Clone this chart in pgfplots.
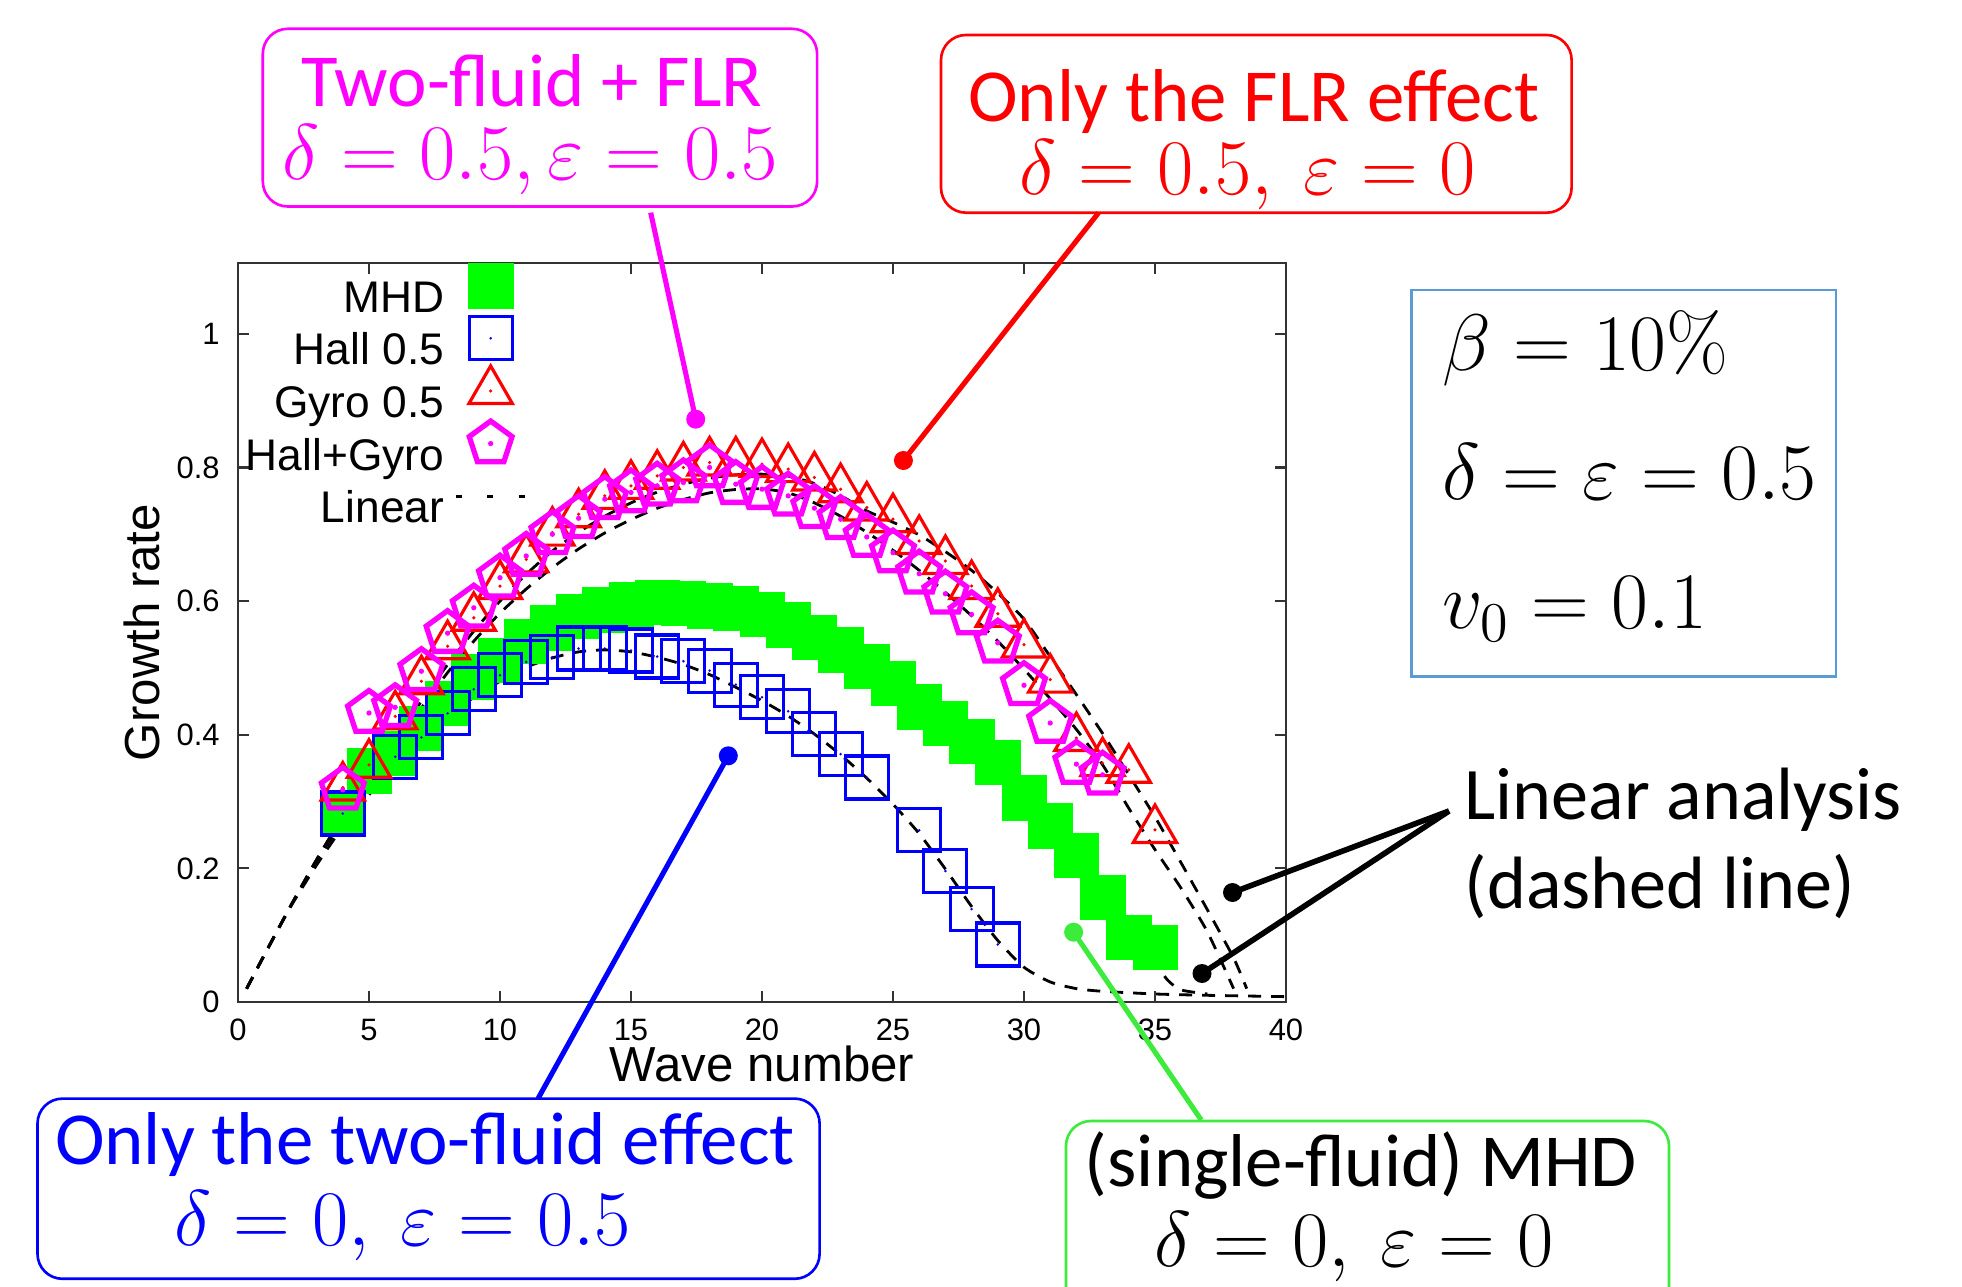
\RequirePackage{fix-cm}
\documentclass[border=0pt]{standalone}
\usepackage{fontspec}
\setmainfont{Carlito}
\newfontfamily\helv{Liberation Sans}
\usepackage{pgfplots}
\pgfplotsset{compat=1.18}
\definecolor{mhdgreen}{RGB}{0,255,0}
\definecolor{pblue}{RGB}{0,0,255}
\definecolor{pred}{RGB}{255,0,0}
\definecolor{pmag}{RGB}{255,0,255}
\definecolor{ptrgreen}{RGB}{60,235,60}
\definecolor{boxblue}{RGB}{91,155,213}

\pgfdeclareplotmark{sqdot}{%
  \pgfpathrectangle{\pgfqpoint{-\pgfplotmarksize}{-\pgfplotmarksize}}{\pgfqpoint{2\pgfplotmarksize}{2\pgfplotmarksize}}%
  \pgfusepathqstroke
  \pgfpathcircle{\pgfpointorigin}{0.4pt}\pgfusepathqfill}
\pgfdeclareplotmark{tridot}{%
  \pgfpathmoveto{\pgfpointpolar{90}{\pgfplotmarksize}}%
  \pgfpathlineto{\pgfpointpolar{210}{\pgfplotmarksize}}%
  \pgfpathlineto{\pgfpointpolar{330}{\pgfplotmarksize}}%
  \pgfpathclose\pgfusepathqstroke
  \pgfpathcircle{\pgfpointorigin}{0.5pt}\pgfusepathqfill}
\pgfdeclareplotmark{pentdot}{%
  \pgfpathmoveto{\pgfpointpolar{90}{\pgfplotmarksize}}%
  \pgfpathlineto{\pgfpointpolar{162}{\pgfplotmarksize}}%
  \pgfpathlineto{\pgfpointpolar{234}{\pgfplotmarksize}}%
  \pgfpathlineto{\pgfpointpolar{306}{\pgfplotmarksize}}%
  \pgfpathlineto{\pgfpointpolar{18}{\pgfplotmarksize}}%
  \pgfpathclose\pgfusepathqstroke
  \pgfpathcircle{\pgfpointorigin}{0.75pt}\pgfusepathqfill}

\pgfplotsset{
  marklegend/.style={legend image code/.code={\path[draw=none,fill=none] (0cm,-0.3mm) rectangle (0.7cm,3.4mm);
    \draw[##1,overlay] plot coordinates {(0.35cm,1.6mm)};}},
  linelegend/.style={legend image code/.code={\path[draw=none,fill=none] (0cm,-0.3mm) rectangle (0.7cm,3.4mm);
    \draw[##1, line width=0.9pt, dash pattern=on 0.6mm off 2.55mm] (0cm,1.6mm) -- (0.7cm,1.6mm);}},
  lin/.style={black, line width=0.8pt, dash pattern=on 1.3mm off 1mm, smooth, tension=0.4},
}

\begin{document}
\begin{tikzpicture}
\path[use as bounding box] (0,0) rectangle (196.2mm,128.7mm);
\begin{axis}[
  at={(23.8mm,28.5mm)}, anchor=south west,
  scale only axis, width=104.8mm, height=73.9mm,
  xmin=0, xmax=40, ymin=0, ymax=1.106,
  xtick={0,5,...,40}, ytick={0,0.2,0.4,0.6,0.8,1},
  tick align=inside, major tick length=1.07mm,
  axis line style={line width=0.6pt, black!80},
  every tick/.append style={line width=0.6pt, black!80},
  /pgf/number format/assume math mode=true,
  tick label style={font=\helv\fontsize{8.8}{10}\selectfont, black},
  xticklabel style={yshift=-0.45mm},
  yticklabel style={xshift=-0.6mm},
  xlabel={Wave number}, ylabel={Growth rate},
  label style={font=\helv\fontsize{14}{16}\selectfont},
  xlabel style={at={(axis description cs:0.5,-0.084)}, anchor=center},
  ylabel style={at={(axis description cs:-0.092,0.5)}, anchor=center},
  legend plot pos=right,
  legend cell align=right,
  legend style={draw=none, fill=none, at={(axis cs:11.04,1.099)}, anchor=north east,
    inner sep=0pt, outer sep=0pt, font=\helv\fontsize{12.6}{15}\selectfont,
    /tikz/column sep=1.0mm, /tikz/row sep=-2.3pt,
    nodes={inner sep=0pt, text height=10.6pt, text depth=4.6pt}},
  marklegend,
]
% MHD
\addplot[only marks, mark=square*, color=mhdgreen, mark size=2.22mm, line width=0.1pt]
coordinates {(4,0.283) (5,0.346) (6,0.372) (7,0.41) (8,0.447) (9,0.487) (10,0.512)
(11,0.54) (12,0.56) (13,0.577) (14,0.587) (15,0.595) (16,0.598) (17,0.597) (18,0.593)
(19,0.589) (20,0.580) (21,0.565) (22,0.546) (23,0.527) (24,0.503) (25,0.477) (26,0.442)
(27,0.417) (28,0.39) (29,0.359) (30,0.306) (31,0.264) (32,0.22) (33,0.157) (34,0.097) (35,0.082)};
% Hall 0.5
\addplot[only marks, mark=sqdot, color=pblue, mark size=2.15mm, line width=0.9pt, line join=miter]
coordinates {(4,0.282) (6,0.367) (7,0.396) (8,0.432) (9,0.468) (10,0.489) (11,0.509)
(12,0.516) (13,0.529) (14,0.529) (15,0.526) (16,0.517) (17,0.510) (18,0.496) (19,0.475)
(20,0.456) (21,0.435) (22,0.401) (23,0.371) (24,0.336) (26,0.257) (27,0.196) (28,0.139) (29,0.086)};
% Gyro 0.5
\addplot[only marks, mark=tridot, color=pred, mark size=2.5mm, line width=0.9pt, line join=miter]
coordinates {(4,0.321) (5,0.355) (6,0.4275) (7,0.48) (8,0.5325) (9,0.575) (10,0.6225)
(11,0.6625) (12,0.7025) (13,0.73) (14,0.7575) (15,0.7725) (16,0.7875) (17,0.80) (18,0.8075)
(19,0.8075) (20,0.805) (21,0.7975) (22,0.785) (23,0.7675) (24,0.74) (25,0.7225) (26,0.69)
(27,0.66) (28,0.6225) (29,0.581) (30,0.535) (31,0.4825) (32,0.395) (33,0.3575) (34,0.3475) (35,0.2575)};
% Hall+Gyro
\addplot[only marks, mark=pentdot, color=pmag, mark size=2.25mm, line width=1.5pt, line join=miter]
coordinates {(4,0.3175) (5,0.4325) (6,0.441) (7,0.495) (8,0.552) (9,0.59) (10,0.635)
(11,0.6675) (12,0.70) (13,0.724) (14,0.7525) (15,0.7625) (16,0.7725) (17,0.7775) (18,0.80)
(19,0.775) (20,0.7675) (21,0.7575) (22,0.739) (23,0.7225) (24,0.696) (25,0.6725) (26,0.641)
(27,0.611) (28,0.58) (29,0.5375) (30,0.474) (31,0.4175) (32,0.356) (33,0.340)};
% Linear: MHD
\addplot[lin, linelegend]
coordinates {(0.33,0.02) (1,0.07) (2,0.143) (3,0.212) (4,0.268) (5,0.318) (6,0.362) (7,0.402)
(8,0.437) (9,0.471) (10,0.501) (11,0.526) (12,0.548) (13,0.566) (14,0.58) (15,0.59) (16,0.597)
(17,0.6) (18,0.597) (19,0.59) (20,0.578) (21,0.562) (22,0.543) (23,0.524) (24,0.503) (25,0.477)
(26,0.447) (27,0.42) (28,0.39) (29,0.358) (30,0.31) (31,0.258) (32,0.208) (33,0.157) (34,0.106)
(35,0.058) (35.5,0.032) (36,0.018) (37,0.012)};
% Linear: Hall
\addplot[lin, forget plot]
coordinates {(0.33,0.02) (1,0.07) (2,0.142) (3,0.205) (4,0.262) (5,0.31) (6,0.355) (7,0.392)
(8,0.426) (9,0.456) (10,0.48) (11,0.501) (12,0.515) (13,0.524) (14,0.527) (15,0.524) (16,0.516)
(17,0.505) (18,0.49) (19,0.471) (20,0.451) (21,0.428) (22,0.401) (23,0.37) (24,0.335) (25,0.296)
(26,0.252) (27,0.199) (28,0.143) (29,0.092) (30,0.052) (31,0.03) (32,0.02) (33,0.016) (35,0.012)
(37,0.01) (40,0.008)};
% Linear: Gyro
\addplot[lin, forget plot]
coordinates {(0.33,0.02) (1,0.07) (2,0.143) (3,0.213) (4,0.278) (5,0.338) (6,0.393) (7,0.45)
(8,0.505) (9,0.555) (10,0.6) (11,0.64) (12,0.675) (13,0.703) (14,0.727) (15,0.747) (16,0.763)
(17,0.775) (18,0.784) (19,0.789) (20,0.79) (21,0.787) (22,0.776) (23,0.758) (24,0.735) (25,0.718)
(26,0.699) (27,0.674) (28,0.646) (29,0.612) (30,0.573) (31,0.517) (32,0.46) (33,0.402) (34,0.34)
(35,0.277) (36,0.208) (37,0.138) (38,0.066) (38.5,0.02)};
% Linear: Hall+Gyro
\addplot[lin, forget plot]
coordinates {(0.33,0.02) (1,0.07) (2,0.143) (3,0.213) (4,0.277) (5,0.335) (6,0.388) (7,0.44)
(8,0.493) (9,0.54) (10,0.582) (11,0.618) (12,0.65) (13,0.678) (14,0.702) (15,0.722) (16,0.739)
(17,0.752) (18,0.762) (19,0.767) (20,0.768) (21,0.762) (22,0.747) (23,0.727) (24,0.703) (25,0.676)
(26,0.646) (27,0.613) (28,0.578) (29,0.54) (30,0.498) (31,0.454) (32,0.408) (33,0.355) (34,0.29)
(35,0.228) (36,0.17) (37,0.105) (38,0.02)};
\legend{MHD, Hall 0.5, Gyro 0.5, Hall+Gyro, Linear}
\end{axis}

\begin{scope}[x=0.1mm, y=-0.1mm, shift={(0mm,128.7mm)}]
\tikzset{bt/.style={font=\fontsize{21.3}{25}\selectfont, inner sep=0pt, anchor=base},
         bm/.style={font=\fontsize{22.4}{27}\selectfont, inner sep=0pt, anchor=base},
         pm/.style={font=\fontsize{22.8}{28}\selectfont, inner sep=0pt, anchor=base west}}
% magenta box
\draw[pmag, line width=0.75pt, rounded corners=2.5mm] (262.8,28.8) rectangle (817.1,206.5);
\node[bt, text=pmag] at (532,107) {Two-fluid + FLR};
\node[bm, text=pmag] at (530,180) {$\delta=0.5,\varepsilon=0.5$};
% red box
\draw[pred, line width=0.75pt, rounded corners=2.5mm] (941,35) rectangle (1571.6,212.7);
\node[bt, text=pred] at (1254,122) {Only the FLR effect};
\node[bm, text=pred] at (1248,195) {$\delta=0.5,\ \varepsilon=0$};
% blue box
\draw[pblue, line width=0.75pt, rounded corners=2.5mm] (37.5,1098.6) rectangle (819.6,1278.8);
\node[bt, text=pblue] at (425,1164) {Only the two-fluid effect};
\node[bm, text=pblue] at (403,1245) {$\delta=0,\ \varepsilon=0.5$};
% green box
\draw[ptrgreen, line width=0.75pt, rounded corners=2.5mm] (1066,1121) rectangle (1669,1320);
\node[bt] at (1361,1186) {(single-fluid) MHD};
\node[bm] at (1354,1266) {$\delta=0,\ \varepsilon=0$};
% parameter box
\draw[boxblue, line width=0.8pt] (1411.7,290) rectangle (1836,676.7);
\node[pm] at (1441.7,370.7) {$\beta=10\mbox{\usefont{OT1}{cmr}{m}{n}\%}$};
\node[pm] at (1441.7,500) {$\delta=\varepsilon=0.5$};
\node[pm] at (1441.7,629) {$v_0=0.1$};
% linear analysis text
\node[font=\fontsize{21.1}{25}\selectfont, inner sep=0pt, anchor=base west] at (1464,819) {Linear analysis};
\node[font=\fontsize{21.1}{25}\selectfont, inner sep=0pt, anchor=base west] at (1464,908) {(dashed line)};
% pointers
\draw[pmag, line width=1.45pt] (650.7,212.7) -- (695.7,419.2);
\fill[pmag] (695.7,419.2) circle[radius=0.95mm];
\draw[pred, line width=1.45pt] (1098.6,212.7) -- (903.4,460.5);
\fill[pred] (903.4,460.5) circle[radius=0.95mm];
\draw[pblue, line width=1.45pt] (538,1098.6) -- (728.3,755.8);
\fill[pblue] (728.3,755.8) circle[radius=0.95mm];
\draw[ptrgreen, line width=1.45pt] (1201.2,1120) -- (1073.6,932.2);
\fill[ptrgreen] (1073.6,932.2) circle[radius=0.95mm];
\draw[black, line width=1.6pt] (1449,811) -- (1232.5,892.5);
\fill[black] (1232.5,892.5) circle[radius=0.95mm];
\draw[black, line width=1.6pt] (1449,811) -- (1202,973.5);
\fill[black] (1202,973.5) circle[radius=0.95mm];
\end{scope}
\end{tikzpicture}
\end{document}
